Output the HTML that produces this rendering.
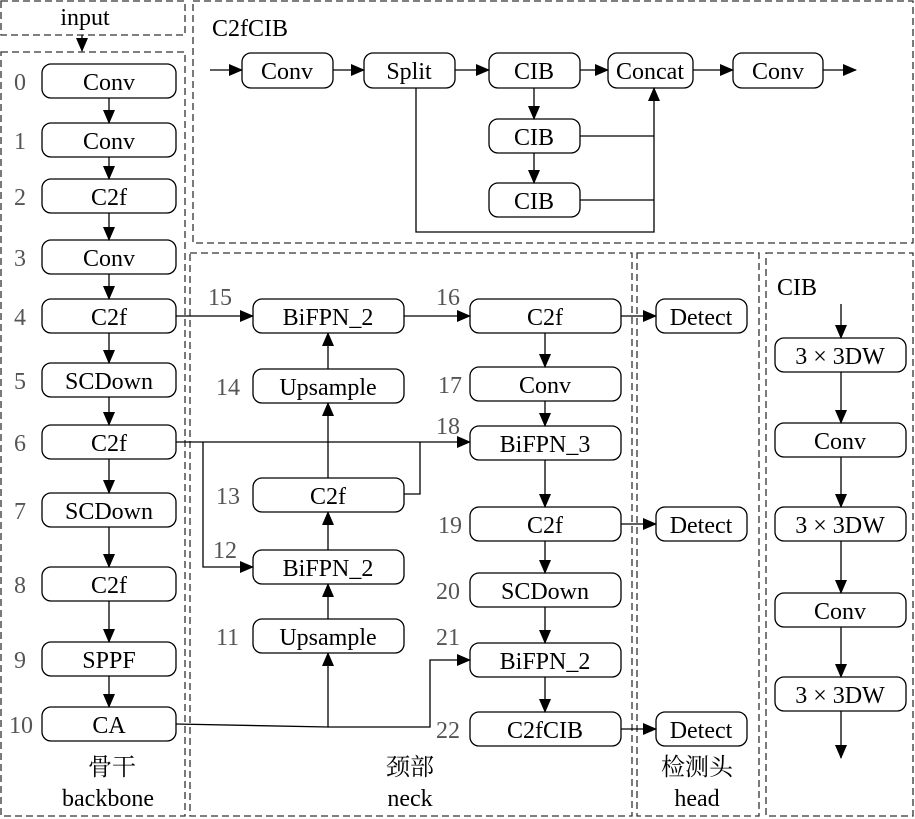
<!DOCTYPE html>
<html><head><meta charset="utf-8"><style>
html,body{margin:0;padding:0;background:#fff;}
svg{display:block;font-family:"Liberation Serif","Times New Roman","Noto Serif CJK SC",serif;}
text{font-family:"Liberation Serif","Times New Roman","Noto Serif CJK SC",serif;font-size:24px;fill:#000;}
.n{fill:#555;}
.b{fill:#fff;stroke:#000;stroke-width:1.3;}
.d{fill:none;stroke:#333;stroke-width:1.3;stroke-dasharray:7,4;}
.l{fill:none;stroke:#000;stroke-width:1.3;}
</style></head><body>
<svg width="915" height="819" viewBox="0 0 915 819" xmlns="http://www.w3.org/2000/svg" font-family="Liberation Serif, serif">
<defs><marker id="a" markerWidth="14" markerHeight="12" refX="13" refY="6" orient="auto" markerUnits="userSpaceOnUse"><path d="M0,0 L14,6 L0,12 z" fill="#000"/></marker></defs>
<rect class="d" x="1" y="1" width="184" height="34"/>
<rect class="d" x="1" y="52" width="184" height="764"/>
<rect class="d" x="193" y="1" width="720" height="242"/>
<rect class="d" x="190" y="253" width="442" height="563"/>
<rect class="d" x="637" y="253" width="122" height="563"/>
<rect class="d" x="766" y="253" width="147" height="563"/>
<text x="85" y="25" text-anchor="middle" font-size="22">input</text>
<line class="l" x1="82" y1="35" x2="82" y2="51" marker-end="url(#a)"/>
<g text-anchor="middle">
<rect class="b" x="42" y="64" width="134" height="34" rx="9"/><text x="109" y="90">Conv</text>
<rect class="b" x="42" y="123" width="134" height="34" rx="9"/><text x="109" y="149">Conv</text>
<rect class="b" x="42" y="179" width="134" height="34" rx="9"/><text x="109" y="205">C2f</text>
<rect class="b" x="42" y="240" width="134" height="34" rx="9"/><text x="109" y="266">Conv</text>
<rect class="b" x="42" y="299" width="134" height="34" rx="9"/><text x="109" y="325">C2f</text>
<rect class="b" x="42" y="363" width="134" height="34" rx="9"/><text x="109" y="389">SCDown</text>
<rect class="b" x="42" y="425" width="134" height="34" rx="9"/><text x="109" y="451">C2f</text>
<rect class="b" x="42" y="493" width="134" height="34" rx="9"/><text x="109" y="519">SCDown</text>
<rect class="b" x="42" y="567" width="134" height="34" rx="9"/><text x="109" y="593">C2f</text>
<rect class="b" x="42" y="642" width="134" height="34" rx="9"/><text x="109" y="668">SPPF</text>
<rect class="b" x="42" y="707" width="134" height="34" rx="9"/><text x="109" y="733">CA</text>
<text class="n" x="20" y="90">0</text><text class="n" x="20" y="149">1</text><text class="n" x="20" y="205">2</text>
<text class="n" x="20" y="266">3</text><text class="n" x="20" y="325">4</text><text class="n" x="20" y="389">5</text>
<text class="n" x="20" y="451">6</text><text class="n" x="20" y="519">7</text><text class="n" x="20" y="593">8</text>
<text class="n" x="20" y="668">9</text><text class="n" x="21" y="733">10</text>
<text x="112" y="775">骨干</text><text x="108" y="806" font-size="22">backbone</text>
<text x="410" y="775">颈部</text><text x="410" y="806" font-size="22">neck</text>
<text x="697" y="775">检测头</text><text x="697" y="806" font-size="22">head</text>
</g>
<g class="l">
<line x1="109" y1="98" x2="109" y2="123" marker-end="url(#a)"/>
<line x1="109" y1="157" x2="109" y2="179" marker-end="url(#a)"/>
<line x1="109" y1="213" x2="109" y2="240" marker-end="url(#a)"/>
<line x1="109" y1="274" x2="109" y2="299" marker-end="url(#a)"/>
<line x1="109" y1="333" x2="109" y2="363" marker-end="url(#a)"/>
<line x1="109" y1="397" x2="109" y2="425" marker-end="url(#a)"/>
<line x1="109" y1="459" x2="109" y2="493" marker-end="url(#a)"/>
<line x1="109" y1="527" x2="109" y2="567" marker-end="url(#a)"/>
<line x1="109" y1="601" x2="109" y2="642" marker-end="url(#a)"/>
<line x1="109" y1="676" x2="109" y2="707" marker-end="url(#a)"/>
</g>
<text x="212" y="36" font-size="23">C2fCIB</text>
<g text-anchor="middle">
<rect class="b" x="242" y="53" width="91" height="35" rx="9"/><text x="287" y="79">Conv</text>
<rect class="b" x="364" y="53" width="91" height="35" rx="9"/><text x="409" y="79">Split</text>
<rect class="b" x="489" y="53" width="91" height="35" rx="9"/><text x="534" y="79">CIB</text>
<rect class="b" x="608" y="53" width="85" height="35" rx="9"/><text x="650" y="79">Concat</text>
<rect class="b" x="733" y="53" width="90" height="35" rx="9"/><text x="778" y="79">Conv</text>
<rect class="b" x="489" y="119" width="91" height="34" rx="9"/><text x="534" y="145">CIB</text>
<rect class="b" x="489" y="183" width="91" height="34" rx="9"/><text x="534" y="209">CIB</text>
</g>
<g class="l">
<line x1="210" y1="70" x2="242" y2="70" marker-end="url(#a)"/>
<line x1="333" y1="70" x2="364" y2="70" marker-end="url(#a)"/>
<line x1="455" y1="70" x2="489" y2="70" marker-end="url(#a)"/>
<line x1="580" y1="70" x2="608" y2="70" marker-end="url(#a)"/>
<line x1="693" y1="70" x2="733" y2="70" marker-end="url(#a)"/>
<line x1="823" y1="70" x2="856" y2="70" marker-end="url(#a)"/>
<line x1="534" y1="88" x2="534" y2="119" marker-end="url(#a)"/>
<line x1="534" y1="153" x2="534" y2="183" marker-end="url(#a)"/>
<polyline points="416,88 416,232 654,232 654,88" marker-end="url(#a)"/>
<line x1="580" y1="136" x2="654" y2="136"/>
<line x1="580" y1="200" x2="654" y2="200"/>
</g>
<g text-anchor="middle">
<rect class="b" x="253" y="299" width="151" height="34" rx="9"/><text x="328" y="325">BiFPN_2</text>
<rect class="b" x="253" y="369" width="151" height="34" rx="9"/><text x="328" y="395">Upsample</text>
<rect class="b" x="253" y="478" width="151" height="34" rx="9"/><text x="328" y="504">C2f</text>
<rect class="b" x="253" y="550" width="151" height="34" rx="9"/><text x="328" y="576">BiFPN_2</text>
<rect class="b" x="253" y="619" width="151" height="34" rx="9"/><text x="328" y="645">Upsample</text>
<rect class="b" x="470" y="299" width="151" height="34" rx="9"/><text x="545" y="325">C2f</text>
<rect class="b" x="470" y="367" width="151" height="34" rx="9"/><text x="545" y="393">Conv</text>
<rect class="b" x="470" y="426" width="151" height="34" rx="9"/><text x="545" y="452">BiFPN_3</text>
<rect class="b" x="470" y="507" width="151" height="34" rx="9"/><text x="545" y="533">C2f</text>
<rect class="b" x="470" y="573" width="151" height="34" rx="9"/><text x="545" y="599">SCDown</text>
<rect class="b" x="470" y="643" width="151" height="34" rx="9"/><text x="545" y="669">BiFPN_2</text>
<rect class="b" x="470" y="712" width="151" height="34" rx="9"/><text x="545" y="738">C2fCIB</text>
<rect class="b" x="656" y="299" width="91" height="34" rx="9"/><text x="701" y="325">Detect</text>
<rect class="b" x="656" y="507" width="91" height="34" rx="9"/><text x="701" y="533">Detect</text>
<rect class="b" x="656" y="712" width="91" height="34" rx="9"/><text x="701" y="738">Detect</text>
</g>
<text class="n" x="208" y="305">15</text><text class="n" x="216" y="395">14</text>
<text class="n" x="216" y="504">13</text><text class="n" x="213" y="558">12</text>
<text class="n" x="216" y="645">11</text>
<text class="n" x="436" y="305">16</text><text class="n" x="438" y="393">17</text>
<text class="n" x="436" y="434">18</text><text class="n" x="438" y="533">19</text>
<text class="n" x="436" y="599">20</text><text class="n" x="436" y="645">21</text>
<text class="n" x="436" y="738">22</text>
<g class="l">
<line x1="176" y1="316" x2="253" y2="316" marker-end="url(#a)"/>
<line x1="404" y1="316" x2="470" y2="316" marker-end="url(#a)"/>
<line x1="621" y1="316" x2="656" y2="316" marker-end="url(#a)"/>
<line x1="621" y1="524" x2="656" y2="524" marker-end="url(#a)"/>
<line x1="621" y1="729" x2="656" y2="729" marker-end="url(#a)"/>
<line x1="176" y1="442" x2="470" y2="442" marker-end="url(#a)"/>
<polyline points="203,442 203,567 253,567" marker-end="url(#a)"/>
<polyline points="404,494 420,494 420,442"/>
<polyline points="176,724 328,727 430,727 430,660 470,660" marker-end="url(#a)"/>
<line x1="328" y1="727" x2="328" y2="653" marker-end="url(#a)"/>
<line x1="328" y1="619" x2="328" y2="584" marker-end="url(#a)"/>
<line x1="328" y1="550" x2="328" y2="512" marker-end="url(#a)"/>
<line x1="328" y1="478" x2="328" y2="403" marker-end="url(#a)"/>
<line x1="328" y1="369" x2="328" y2="333" marker-end="url(#a)"/>
<line x1="545" y1="333" x2="545" y2="367" marker-end="url(#a)"/>
<line x1="545" y1="401" x2="545" y2="426" marker-end="url(#a)"/>
<line x1="545" y1="460" x2="545" y2="507" marker-end="url(#a)"/>
<line x1="545" y1="541" x2="545" y2="573" marker-end="url(#a)"/>
<line x1="545" y1="607" x2="545" y2="643" marker-end="url(#a)"/>
<line x1="545" y1="677" x2="545" y2="712" marker-end="url(#a)"/>
</g>
<text x="777" y="295" font-size="23">CIB</text>
<g text-anchor="middle">
<rect class="b" x="775" y="338" width="131" height="34" rx="9"/><text x="840" y="364">3 × 3DW</text>
<rect class="b" x="775" y="423" width="131" height="34" rx="9"/><text x="840" y="449">Conv</text>
<rect class="b" x="775" y="507" width="131" height="34" rx="9"/><text x="840" y="533">3 × 3DW</text>
<rect class="b" x="775" y="593" width="131" height="34" rx="9"/><text x="840" y="619">Conv</text>
<rect class="b" x="775" y="677" width="131" height="34" rx="9"/><text x="840" y="703">3 × 3DW</text>
</g>
<g class="l">
<line x1="841" y1="304" x2="841" y2="338" marker-end="url(#a)"/>
<line x1="841" y1="372" x2="841" y2="423" marker-end="url(#a)"/>
<line x1="841" y1="457" x2="841" y2="507" marker-end="url(#a)"/>
<line x1="841" y1="541" x2="841" y2="593" marker-end="url(#a)"/>
<line x1="841" y1="627" x2="841" y2="677" marker-end="url(#a)"/>
<line x1="841" y1="711" x2="841" y2="758" marker-end="url(#a)"/>
</g>
</svg>
</body></html>
